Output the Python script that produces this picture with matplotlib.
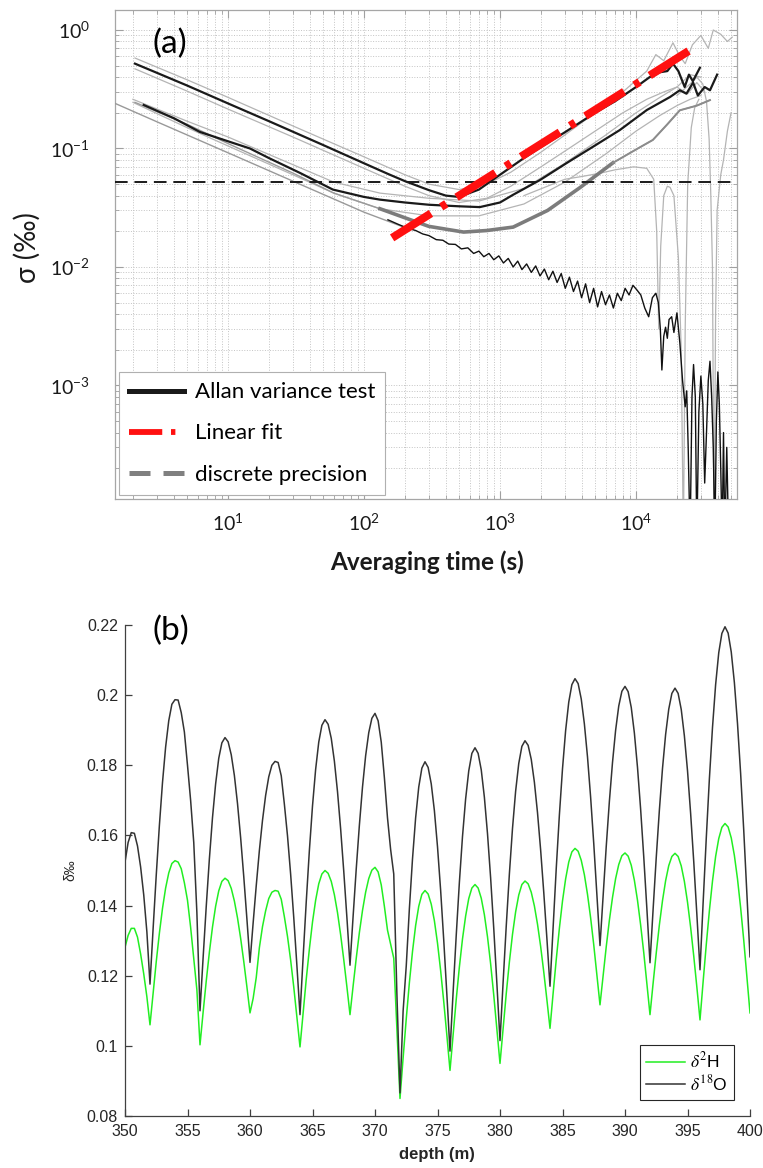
import numpy as np
import matplotlib
matplotlib.use("Agg")
import matplotlib.pyplot as plt
from matplotlib.lines import Line2D
from matplotlib.ticker import NullFormatter, FixedLocator

# ---------------- panel (a) data: Allan deviation curves ----------------
tau_A = [2.07, 3, 5, 10, 20, 50, 100, 150, 200, 300, 400, 500, 700, 1000, 1500, 2000,
         3000, 5000, 7000, 10000, 12600, 15000, 17000, 18700, 20500, 22800, 24500, 26200, 29500]
sig_A = [0.52, 0.435, 0.34, 0.24, 0.17, 0.107, 0.075, 0.061, 0.053, 0.0445, 0.040, 0.039, 0.045,
         0.060, 0.083, 0.103, 0.137, 0.20, 0.25, 0.33, 0.40, 0.44, 0.45, 0.52, 0.45, 0.33, 0.42, 0.37, 0.48]

tau_Au = [2.07, 5, 10, 30, 100, 200, 300, 500, 800, 1200, 2000, 3000, 5000, 8000, 12000, 14000,
          16000, 18700, 21000, 23000, 26000, 30000, 34000, 37000, 42000, 47000, 51000]
sig_Au = [0.58, 0.38, 0.27, 0.155, 0.085, 0.060, 0.050, 0.045, 0.050, 0.063, 0.093, 0.13, 0.20,
          0.30, 0.45, 0.62, 0.55, 0.78, 0.60, 0.52, 0.75, 0.90, 0.70, 1.0, 0.92, 0.80, 0.87]

tau_Al = [2.07, 5, 10, 30, 100, 200, 300, 500, 800, 1200, 2000, 3000, 5000, 8000, 12000, 16000,
          20000, 24000, 28000, 32000]
sig_Al = [0.47, 0.305, 0.215, 0.125, 0.068, 0.048, 0.040, 0.035, 0.038, 0.048, 0.07, 0.095, 0.14,
          0.20, 0.26, 0.30, 0.33, 0.29, 0.36, 0.30]

tau_B = [2.4, 4, 6.2, 10, 14.5, 20, 34, 59, 100, 131, 200, 300, 500, 710, 1000, 1250, 1960, 3100,
         4800, 7600, 12000, 17800, 21000, 23500, 26300, 28500, 32000, 35000, 39500]
sig_B = [0.233, 0.18, 0.138, 0.115, 0.1, 0.083, 0.062, 0.045, 0.039, 0.037, 0.035, 0.0335, 0.0325,
         0.032, 0.035, 0.0407, 0.054, 0.0755, 0.103, 0.143, 0.211, 0.272, 0.31, 0.29, 0.36, 0.28,
         0.33, 0.31, 0.42]

tau_Bu = [2.0, 5, 10, 30, 60, 131, 300, 700, 1500, 3000, 6000, 10000, 15000, 20000, 25000, 30000]
sig_Bu = [0.26, 0.17, 0.125, 0.073, 0.052, 0.042, 0.038, 0.036, 0.046, 0.075, 0.13, 0.20, 0.27,
          0.33, 0.42, 0.40]
tau_Bl = [2.0, 5, 10, 30, 60, 131, 300, 700, 1500, 3000, 6000, 10000, 15000, 20000, 25000, 30000]
sig_Bl = [0.245, 0.15, 0.105, 0.06, 0.042, 0.031, 0.027, 0.027, 0.034, 0.052, 0.09, 0.14, 0.19,
          0.23, 0.26, 0.28]

tau_C = [2.07, 5, 10, 30, 60, 131, 200, 300, 540, 800, 1250, 2240, 3900, 6750, 10000, 13300,
         17000, 21000, 28000, 35000]
sig_C = [0.245, 0.16, 0.11, 0.062, 0.042, 0.031, 0.026, 0.022, 0.0197, 0.0203, 0.0217, 0.030,
         0.047, 0.0755, 0.098, 0.118, 0.16, 0.21, 0.23, 0.256]

tau_L = [1.48, 3, 10, 30, 100, 200]
sig_L = [0.24, 0.168, 0.092, 0.053, 0.029, 0.0215]

tau_D = [150, 180, 210, 240, 270, 300, 340, 380, 420, 470, 520, 580, 640, 700, 760, 830, 900,
         980, 1060, 1150, 1250, 1350, 1450, 1570, 1700, 1830, 1970, 2120, 2280, 2450, 2630, 2820,
         3020, 3240, 3470, 3720, 3980, 4260, 4560, 4880, 5220, 5580, 5970, 6380, 6820, 7290, 7790,
         8320, 8890, 9500, 10150, 10850, 11600, 12400, 13200, 14000, 14600, 15100, 15500,
         16000, 16500, 17000, 17500, 18300, 19000, 20000, 21000, 22000, 23000, 23600, 24200,
         25000, 25800, 26500, 27300, 28000, 29000, 30000, 31000, 32000, 33000, 34000, 35000,
         36000, 37000, 38000, 39000, 40000, 41000, 42000, 43000, 44000, 45000, 46500, 48000]
sig_D = [0.0250, 0.0228, 0.0212, 0.0203, 0.0190, 0.0184, 0.0170, 0.0168, 0.0156, 0.0155, 0.0142,
         0.0145, 0.0130, 0.0136, 0.0122, 0.0130, 0.0115, 0.0124, 0.0108, 0.0118, 0.0100, 0.0112,
         0.0095, 0.0106, 0.0090, 0.0102, 0.0084, 0.0096, 0.0078, 0.0092, 0.0074, 0.0088, 0.0066,
         0.0082, 0.0062, 0.0076, 0.0055, 0.0072, 0.0050, 0.0066, 0.0046, 0.0062, 0.0048, 0.0058,
         0.0045, 0.0060, 0.0052, 0.0066, 0.0058, 0.0070, 0.0064, 0.0058, 0.0045, 0.0038, 0.0055,
         0.0060, 0.0050, 0.0030, 0.00135,
         0.0026, 0.0031, 0.0025, 0.0036, 0.0038, 0.0028, 0.0041, 0.0023, 0.0011, 0.00066, 0.0009,
         0.0003, 0.00005, 0.0008, 0.0015, 0.0008, 0.00005, 0.0006, 0.0012, 0.0007, 0.00015, 0.0004,
         0.0011, 0.0016, 0.0008, 0.0003, 0.00005, 0.0005, 0.0013, 0.0007, 0.0002, 0.00005, 0.0004,
         0.00005, 0.0003, 0.00005]

tau_G1 = [1500, 3000, 4000, 5500, 7000, 9600, 12000, 13500, 14200, 14700, 15200, 16000, 17000,
          17800, 19000, 20500, 21500, 22300, 23000, 24000, 25500, 27000, 29000]
sig_G1 = [0.04, 0.055, 0.058, 0.062, 0.066, 0.070, 0.068, 0.055, 0.02, 0.003, 0.015, 0.040, 0.048,
          0.047, 0.04, 0.012, 0.002, 0.00005, 0.003, 0.05, 0.15, 0.22, 0.26]

tau_G2 = [20000, 25000, 28000, 31000, 33000, 34500, 35500, 36500, 37500, 38500, 39500, 40500,
          42000, 44000, 47000, 50000]
sig_G2 = [0.28, 0.35, 0.40, 0.35, 0.25, 0.12, 0.04, 0.01, 0.00005, 0.004, 0.03, 0.04, 0.06, 0.08,
          0.14, 0.20]

tau_fit = [161, 27200]
sig_fit = [0.0176, 0.72]
discrete_precision = 0.052

# ---------------- panel (b) data ----------------
depth = np.arange(350.0, 400.001, 0.25)
d18O = [
    0.1524, 0.1580, 0.1608, 0.1606, 0.1570, 0.1510, 0.1430, 0.1325,
    0.1176, 0.1335, 0.1487, 0.1628, 0.1751, 0.1852, 0.1927, 0.1974,
    0.1987, 0.1986, 0.1950, 0.1895, 0.1800, 0.1700, 0.1580, 0.1380,
    0.1100, 0.1252, 0.1398, 0.1533, 0.1651, 0.1747, 0.1820, 0.1864,
    0.1879, 0.1867, 0.1830, 0.1771, 0.1691, 0.1594, 0.1483, 0.1363,
    0.1238, 0.1350, 0.1457, 0.1557, 0.1643, 0.1714, 0.1767, 0.1800,
    0.1811, 0.1808, 0.1770, 0.1689, 0.1599, 0.1490, 0.1366, 0.1230,
    0.1089, 0.1253, 0.1411, 0.1557, 0.1684, 0.1788, 0.1866, 0.1914,
    0.1930, 0.1917, 0.1877, 0.1812, 0.1725, 0.1619, 0.1498, 0.1367,
    0.1230, 0.1370, 0.1505, 0.1629, 0.1738, 0.1827, 0.1893, 0.1934,
    0.1948, 0.1927, 0.1866, 0.1765, 0.1650, 0.1560, 0.1490, 0.1150,
    0.0866, 0.1100, 0.1228, 0.1391, 0.1533, 0.1650, 0.1738, 0.1792,
    0.1810, 0.1794, 0.1747, 0.1671, 0.1568, 0.1444, 0.1301, 0.1146,
    0.0985, 0.1154, 0.1316, 0.1466, 0.1597, 0.1704, 0.1784, 0.1834,
    0.1850, 0.1834, 0.1787, 0.1709, 0.1605, 0.1479, 0.1335, 0.1178,
    0.1015, 0.1182, 0.1342, 0.1490, 0.1620, 0.1726, 0.1805, 0.1854,
    0.1870, 0.1857, 0.1817, 0.1752, 0.1665, 0.1559, 0.1438, 0.1307,
    0.1170, 0.1341, 0.1506, 0.1658, 0.1790, 0.1899, 0.1980, 0.2030,
    0.2047, 0.2033, 0.1989, 0.1918, 0.1824, 0.1709, 0.1577, 0.1434,
    0.1286, 0.1430, 0.1569, 0.1697, 0.1808, 0.1900, 0.1969, 0.2011,
    0.2025, 0.2010, 0.1965, 0.1892, 0.1794, 0.1675, 0.1539, 0.1391,
    0.1237, 0.1390, 0.1537, 0.1672, 0.1791, 0.1888, 0.1960, 0.2005,
    0.2020, 0.2005, 0.1959, 0.1884, 0.1785, 0.1663, 0.1525, 0.1374,
    0.1217, 0.1408, 0.1591, 0.1761, 0.1908, 0.2030, 0.2121, 0.2176,
    0.2195, 0.2177, 0.2123, 0.2036, 0.1919, 0.1777, 0.1614, 0.1437,
    0.1254]
d2H = [
    0.1281, 0.1315, 0.1335, 0.1335, 0.1310, 0.1262, 0.1205, 0.1140,
    0.1060, 0.1151, 0.1240, 0.1321, 0.1392, 0.1450, 0.1493, 0.1520,
    0.1528, 0.1524, 0.1505, 0.1465, 0.1415, 0.1338, 0.1250, 0.1160,
    0.1003, 0.1096, 0.1185, 0.1267, 0.1339, 0.1398, 0.1442, 0.1469,
    0.1478, 0.1471, 0.1449, 0.1413, 0.1365, 0.1307, 0.1241, 0.1169,
    0.1094, 0.1135, 0.1195, 0.1280, 0.1340, 0.1385, 0.1420, 0.1438,
    0.1443, 0.1441, 0.1418, 0.1368, 0.1312, 0.1245, 0.1168, 0.1084,
    0.0997, 0.1095, 0.1190, 0.1276, 0.1353, 0.1415, 0.1462, 0.1490,
    0.1500, 0.1492, 0.1469, 0.1431, 0.1380, 0.1317, 0.1246, 0.1169,
    0.1089, 0.1171, 0.1250, 0.1323, 0.1386, 0.1438, 0.1477, 0.1501,
    0.1509, 0.1496, 0.1459, 0.1398, 0.1330, 0.1290, 0.1250, 0.1050,
    0.0850, 0.0966, 0.1077, 0.1180, 0.1269, 0.1343, 0.1398, 0.1432,
    0.1443, 0.1433, 0.1404, 0.1357, 0.1293, 0.1215, 0.1126, 0.1030,
    0.0930, 0.1033, 0.1133, 0.1225, 0.1305, 0.1370, 0.1420, 0.1450,
    0.1460, 0.1450, 0.1421, 0.1374, 0.1311, 0.1234, 0.1145, 0.1049,
    0.0950, 0.1051, 0.1149, 0.1239, 0.1318, 0.1382, 0.1430, 0.1460,
    0.1470, 0.1462, 0.1438, 0.1399, 0.1347, 0.1284, 0.1211, 0.1132,
    0.1050, 0.1150, 0.1246, 0.1335, 0.1413, 0.1476, 0.1524, 0.1553,
    0.1563, 0.1555, 0.1529, 0.1488, 0.1432, 0.1365, 0.1288, 0.1204,
    0.1117, 0.1201, 0.1283, 0.1358, 0.1423, 0.1477, 0.1517, 0.1542,
    0.1550, 0.1541, 0.1515, 0.1472, 0.1415, 0.1345, 0.1266, 0.1179,
    0.1089, 0.1179, 0.1265, 0.1345, 0.1414, 0.1471, 0.1514, 0.1540,
    0.1549, 0.1540, 0.1513, 0.1469, 0.1410, 0.1338, 0.1256, 0.1167,
    0.1074, 0.1183, 0.1288, 0.1385, 0.1470, 0.1540, 0.1591, 0.1623,
    0.1634, 0.1624, 0.1593, 0.1543, 0.1476, 0.1394, 0.1301, 0.1199,
    0.1094]

y_ticks_b = [0.08, 0.10, 0.12, 0.14, 0.16, 0.18, 0.20, 0.22]
y_ticklabels_b = ["0.08", "0.1", "0.12", "0.14", "0.16", "0.18", "0.2", "0.22"]
x_ticks_b = [350, 355, 360, 365, 370, 375, 380, 385, 390, 395, 400]

# ---------------- figure ----------------
W, H = 763, 1168
fig = plt.figure(figsize=(W / 100, H / 100), dpi=100)
CAL = ["Lato", "Noto Sans", "DejaVu Sans"]
ARI = ["Liberation Sans", "DejaVu Sans"]
plt.rcParams["font.family"] = CAL

def fx(px):
    return px / W

def fy(py):
    return 1 - py / H

# ---- panel (a)
ax1 = fig.add_axes([fx(115), fy(499), fx(737) - fx(115), fy(10) - fy(499)])
ax1.set_xscale("log")
ax1.set_yscale("log")

light = "#b4b4b4"
for t, s in [(tau_Au, sig_Au), (tau_Al, sig_Al), (tau_Bu, sig_Bu), (tau_Bl, sig_Bl),
             (tau_G1, sig_G1), (tau_G2, sig_G2)]:
    ax1.plot(t, s, color=light, lw=0.9, zorder=2)
ax1.plot(tau_C, sig_C, color="#9a9a9a", lw=1.0, zorder=3)
ax1.plot(tau_C[5:14], sig_C[5:14], color="#7c7c7c", lw=2.6, zorder=3)
ax1.plot(tau_C[13:], sig_C[13:], color="#8c8c8c", lw=1.4, zorder=3)
ax1.plot(tau_L, sig_L, color="#999999", lw=1.0, zorder=3)
ax1.plot(tau_D, sig_D, color="#111111", lw=1.0, zorder=4)
ax1.plot(tau_A, sig_A, color="#1a1a1a", lw=1.6, zorder=5)
ax1.plot(tau_B, sig_B, color="#1a1a1a", lw=1.6, zorder=5)
ax1.axhline(discrete_precision, color="#1a1a1a", lw=1.4, dashes=(6.5, 3.5), zorder=6)
ax1.plot(tau_fit, sig_fit, color="#ff1010", lw=5.8, dashes=(5.7, 1.5, 0.75, 1.5),
         solid_capstyle="butt", zorder=7)

ax1.set_xlim(1.476, 55300)
ax1.set_ylim(1.10e-4, 1.475)
ax1.grid(True, which="both", ls=":", color="#c4c4c4", lw=0.7)
ax1.tick_params(which="both", direction="in", top=True, right=True, color="#a0a0a0",
                labelsize=14, labelcolor="#1a1a1a")
ax1.tick_params(which="major", length=6)
ax1.tick_params(which="minor", length=3)
ax1.tick_params(axis="y", pad=18)
ax1.tick_params(axis="x", pad=10)
ax1.xaxis.set_minor_formatter(NullFormatter())
ax1.yaxis.set_minor_formatter(NullFormatter())
for sp in ax1.spines.values():
    sp.set_color("#a6a6a6")
    sp.set_linewidth(0.9)

handles = [
    Line2D([], [], color="#1a1a1a", lw=3.6),
    Line2D([], [], color="#ff1010", lw=4.2, dashes=(5.7, 1.5, 0.75, 1.5)),
    Line2D([], [], color="#808080", lw=3.6, dashes=(4.2, 2.6)),
]
leg = ax1.legend(handles, ["Allan variance test", "Linear fit", "discrete precision"],
                 loc="lower left", prop={"family": CAL, "size": 16}, handlelength=2.45,
                 handletextpad=0.5, labelspacing=0.95, borderpad=0.45, borderaxespad=0.2,
                 fancybox=False, framealpha=1, edgecolor="#b0b0b0", facecolor="white")
leg.get_frame().set_linewidth(0.8)
leg.set_zorder(10)

fig.text(fx(153), fy(44), "(a)", fontsize=24, va="center", ha="left", family=CAL)
fig.text(fx(27), fy(248), "σ (‰)", fontsize=20, rotation=90, va="center", ha="center",
         family=CAL, color="#1a1a1a")
fig.text(fx(427), fy(562), "Averaging time (s)", fontsize=17.5, fontweight="bold",
         va="center", ha="center", family=CAL, color="#1a1a1a")

# ---- panel (b)
ax2 = fig.add_axes([fx(125), fy(1116), fx(750) - fx(125), fy(625) - fy(1116)])
ax2.plot(depth, d2H, color="#22ee22", lw=1.1, label=r"$\delta^{2}$H")
ax2.plot(depth, d18O, color="#333333", lw=1.1, label=r"$\delta^{18}$O")
ax2.set_xlim(350, 400)
ax2.set_ylim(0.08, 0.22)
ax2.yaxis.set_major_locator(FixedLocator(y_ticks_b))
ax2.set_yticklabels(y_ticklabels_b)
ax2.xaxis.set_major_locator(FixedLocator(x_ticks_b))
ax2.set_xticklabels([str(v) for v in x_ticks_b])
ax2.spines["top"].set_visible(False)
ax2.spines["right"].set_visible(False)
for sp in ("left", "bottom"):
    ax2.spines[sp].set_color("#404040")
    ax2.spines[sp].set_linewidth(0.9)
ax2.tick_params(direction="in", length=5, width=0.9, color="#404040", labelsize=11.5,
                labelcolor="#262626")
ax2.tick_params(axis="y", pad=5)
ax2.tick_params(axis="x", pad=6)
for lab in ax2.get_xticklabels() + ax2.get_yticklabels():
    lab.set_family(ARI)
leg2 = ax2.legend(loc="lower right", prop={"family": ARI, "size": 12.5, "math_fontfamily": "stix"},
                  handlelength=2.2, handletextpad=0.3, labelspacing=0.15, borderpad=0.35,
                  borderaxespad=0.95, fancybox=False, framealpha=1, edgecolor="#262626")
leg2.get_frame().set_linewidth(0.8)

fig.text(fx(153), fy(631), "(b)", fontsize=24, va="center", ha="left", family=CAL)
fig.text(fx(70), fy(870), "δ‰", fontsize=10, rotation=90, va="center", ha="center",
         family=ARI, color="#262626")
fig.text(fx(437), fy(1155), "depth (m)", fontsize=12, fontweight="bold", va="center",
         ha="center", family=ARI, color="#262626")

fig.savefig("out.png", dpi=100)
